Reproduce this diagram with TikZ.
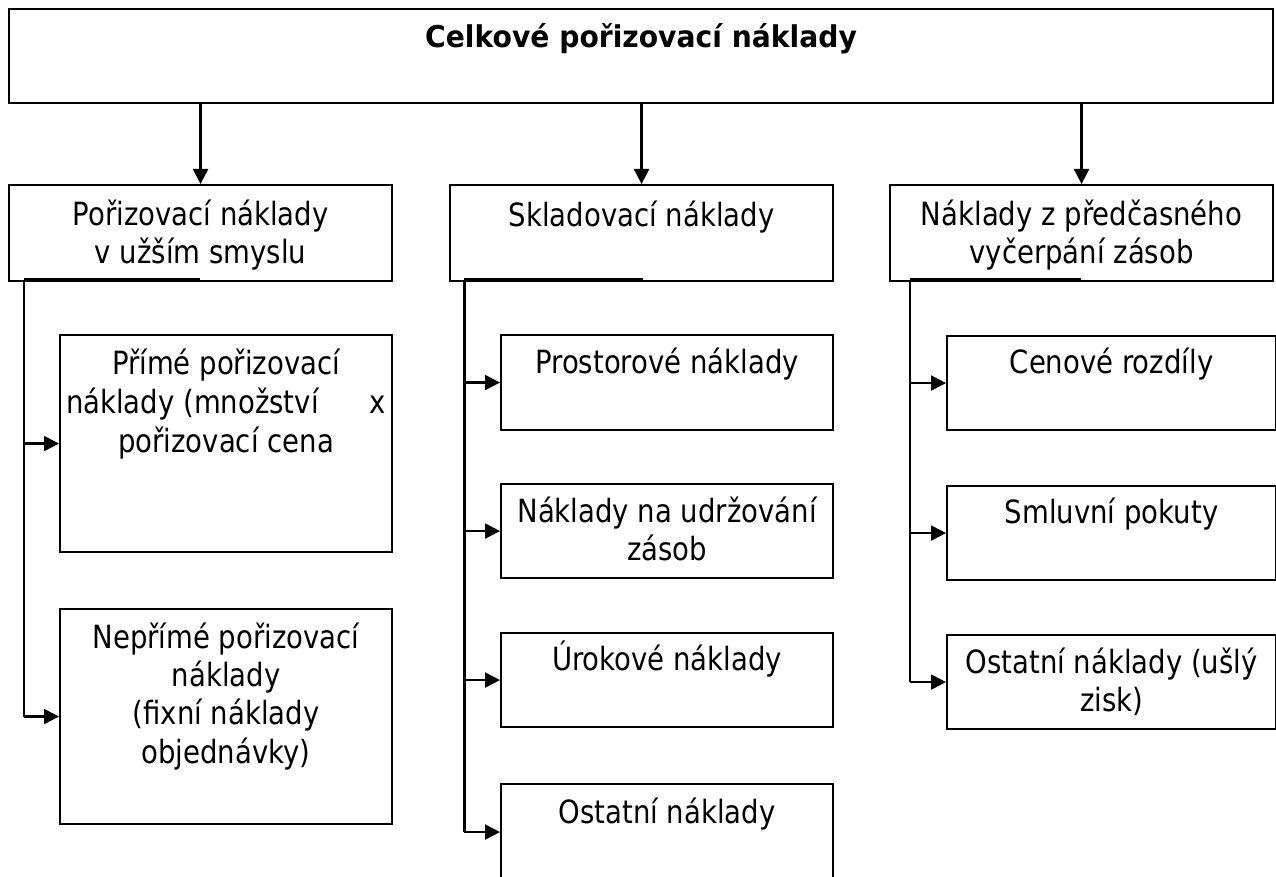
\documentclass[tikz,border=0pt]{standalone}
\usepackage{fontspec}
\setmainfont{DejaVu Sans}[FakeStretch=0.86]
\newfontfamily\ttlfont{DejaVu Sans}[FakeStretch=0.94]
\usetikzlibrary{arrows.meta}
\begin{document}
\begin{tikzpicture}[x=1pt,y=-1pt,
  box/.style={draw,line width=2.1pt,rectangle,inner sep=0pt,anchor=north west},
  txt/.style={font=\fontsize{32}{38}\selectfont,align=center,anchor=base,inner sep=0pt},
  ttl/.style={font=\fontsize{30}{37.5}\selectfont\ttlfont\bfseries,anchor=base,inner sep=0pt},
  conn/.style={line width=2.2pt},
  arr/.style={line width=2.2pt,-{Triangle[length=15pt,width=15pt]}},
  bar/.style={line width=3.6pt}]
\clip (0,0) rectangle (1276,877);
\fill[white] (0,0) rectangle (1276,877);
% boxes
\node[box,minimum width=1264pt,minimum height=94pt] (top) at (8,8) {};
\node[box,minimum width=383pt,minimum height=96pt] (b1) at (8,184) {};
\node[box,minimum width=383pt,minimum height=96pt] (b2) at (449,184) {};
\node[box,minimum width=383pt,minimum height=96pt] (b3) at (889,184) {};
\node[box,minimum width=332pt,minimum height=217pt] (c11) at (59,334) {};
\node[box,minimum width=332pt,minimum height=215pt] (c12) at (59,608) {};
\node[box,minimum width=332pt,minimum height=95pt] (c21) at (500,334) {};
\node[box,minimum width=332pt,minimum height=94pt] (c22) at (500,483) {};
\node[box,minimum width=332pt,minimum height=94pt] (c23) at (500,632) {};
\node[box,minimum width=332pt,minimum height=96pt] (c24) at (500,783) {};
\node[box,minimum width=329pt,minimum height=94pt] (c31) at (946,335) {};
\node[box,minimum width=329pt,minimum height=94pt] (c32) at (946,485) {};
\node[box,minimum width=329pt,minimum height=94pt] (c33) at (946,634) {};
% texts (anchor = baseline of the last line)
\node[ttl] (ttop) at (top.center |- 0,48) {Celkové pořizovací náklady};
\node[txt,font=\fontsize{32}{37}\selectfont] (tb1) at (b1.center |- 0,263) {Pořizovací náklady\\v užším smyslu};
\node[txt] (tb2) at (b2.center |- 0,227) {Skladovací náklady};
\node[txt,font=\fontsize{32}{37}\selectfont] (tb3) at (b3.center |- 0,263) {Náklady z předčasného\\vyčerpání zásob};
\node[txt,font=\fontsize{32}{39}\selectfont] (tc11) at (c11.center |- 0,452) {Přímé pořizovací\\\makebox[320pt]{náklady (množství\hfill x}\\pořizovací cena};
\node[txt,font=\fontsize{32}{38.3}\selectfont] (tc12) at (c12.center |- 0,763) {Nepřímé pořizovací\\náklady\\(fixní náklady\\objednávky)};
\node[txt] (tc21) at (c21.center |- 0,373) {Prostorové náklady};
\node[txt] (tc22) at (c22.center |- 0,560) {Náklady na udržování\\zásob};
\node[txt] (tc23) at (c23.center |- 0,670) {Úrokové náklady};
\node[txt] (tc24) at (c24.center |- 0,823) {Ostatní náklady};
\node[txt] (tc31) at (c31.center |- 0,373) {Cenové rozdíly};
\node[txt] (tc32) at (c32.center |- 0,523) {Smluvní pokuty};
\node[txt] (tc33) at (c33.center |- 0,711) {Ostatní náklady (ušlý\\zisk)};
% top connectors
\draw[arr] (top.south -| b1.north) -- (b1.north);
\draw[arr] (top.south -| b2.north) -- (b2.north);
\draw[arr] (top.south -| b3.north) -- (b3.north);
% left column
\coordinate (v1) at (24,280);
\coordinate (v1e) at (200,280);
\draw[bar] (v1) -- (v1e);
\draw[conn] (v1) -- (v1 |- c12.west);
\draw[arr] (v1 |- c11.west) -- (c11.west);
\draw[arr] (v1 |- c12.west) -- (c12.west);
% middle column
\coordinate (v2) at (464,280);
\coordinate (v2e) at (643,280);
\draw[bar] (v2) -- (v2e);
\draw[conn,line width=3pt] (v2) -- (v2 |- c24.west);
\draw[arr] (v2 |- c21.west) -- (c21.west);
\draw[arr] (v2 |- c22.west) -- (c22.west);
\draw[arr] (v2 |- c23.west) -- (c23.west);
\draw[arr] (v2 |- c24.west) -- (c24.west);
% right column
\coordinate (v3) at (910,280);
\coordinate (v3e) at (1081,280);
\draw[bar] (v3) -- (v3e);
\draw[conn] (v3) -- (v3 |- c33.west);
\draw[arr] (v3 |- c31.west) -- (c31.west);
\draw[arr] (v3 |- c32.west) -- (c32.west);
\draw[arr] (v3 |- c33.west) -- (c33.west);
\end{tikzpicture}
\end{document}
